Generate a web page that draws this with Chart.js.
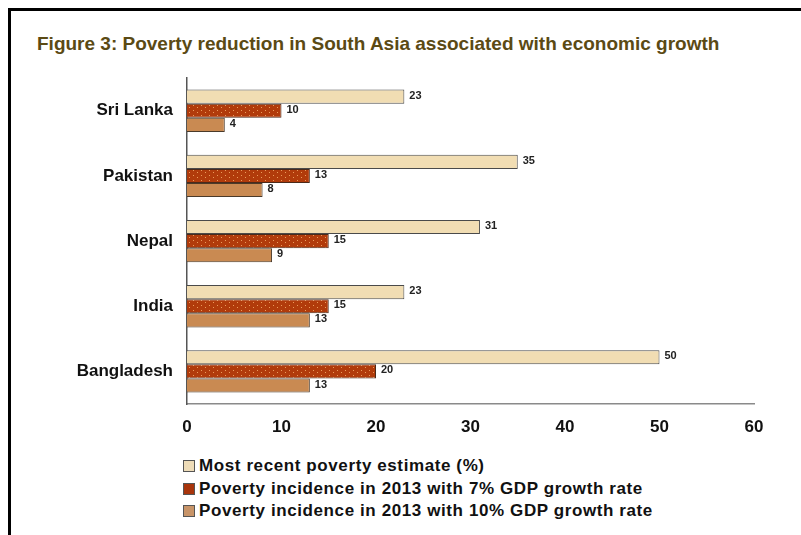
<!DOCTYPE html>
<html>
<head>
<meta charset="utf-8">
<script src="https://cdn.jsdelivr.net/npm/chart.js@4.4.1/dist/chart.umd.min.js"></script>
<style>
  html,body{margin:0;padding:0;background:#fff;}
  body{width:801px;height:535px;position:relative;overflow:hidden;font-family:"Liberation Sans",Arial,sans-serif;}
  #frame{position:absolute;left:8px;top:8px;width:820px;height:560px;border-left:3px solid #000;border-top:3px solid #000;}
  #title{position:absolute;left:37px;top:33px;font-weight:bold;font-size:19px;color:#5b4a14;white-space:nowrap;}
  #wrap{position:absolute;left:0;top:54px;width:790px;height:400px;}
  #legend{position:absolute;left:183px;top:455px;font-weight:bold;font-size:17px;letter-spacing:0.6px;color:#111;}
  #legend div{height:22.5px;line-height:22px;white-space:nowrap;}
  #legend span{display:inline-block;width:10px;height:10px;border:1px solid #555;margin-right:4px;vertical-align:-1px;}
</style>
</head>
<body>
<div id="frame"></div>
<div id="title">Figure 3: Poverty reduction in South Asia associated with economic growth</div>
<div id="wrap"><canvas id="c"></canvas></div>
<div id="legend"></div>
<script>
const countries=['Sri Lanka','Pakistan','Nepal','India','Bangladesh'];
const seriesNames=['Most recent poverty estimate (%)','Poverty incidence in 2013 with 7% GDP growth rate','Poverty incidence in 2013 with 10% GDP growth rate'];
const recent=[23,35,31,23,50];
const growth7=[10,13,15,15,20];
const growth10=[4,8,9,13,13];
const xTicks=[0,10,20,30,40,50,60];

const legendCols=['#eedcb8','#a8350c','#c89468'];

function dotPattern(){
  const p=document.createElement('canvas');p.width=8;p.height=5;
  const g=p.getContext('2d');
  g.fillStyle='#b13b0b';g.fillRect(0,0,8,5);
  g.fillStyle='rgba(255,190,120,0.75)';g.fillRect(1,1,1,1);g.fillRect(5,3,1,1);
  return g.createPattern(p,'repeat');
}

const valueLabels={
  id:'valueLabels',
  afterDatasetsDraw(chart){
    const ctx=chart.ctx;
    ctx.save();
    ctx.font='bold 11px "Liberation Sans", Arial, sans-serif';
    ctx.fillStyle='#222';ctx.textBaseline='middle';ctx.textAlign='left';
    chart.data.datasets.forEach((ds,i)=>{
      chart.getDatasetMeta(i).data.forEach((bar,j)=>{
        ctx.fillText(String(ds.data[j]),bar.x+5,bar.y-1);
      });
    });
    ctx.restore();
  }
};

const ctx=document.getElementById('c').getContext('2d');
const chart=new Chart(ctx,{
  type:'bar',
  data:{
    labels:countries,
    datasets:[
      {label:seriesNames[0],data:recent,backgroundColor:'#f1ddb3',borderColor:'#4a4a4a',borderWidth:1,borderSkipped:'left'},
      {label:seriesNames[1],data:growth7,backgroundColor:dotPattern(),borderColor:'#4a2a1a',borderWidth:1,borderSkipped:'left'},
      {label:seriesNames[2],data:growth10,backgroundColor:'#c98a52',borderColor:'#4a3a2a',borderWidth:1,borderSkipped:'left'}
    ]
  },
  options:{
    indexAxis:'y',responsive:true,maintainAspectRatio:false,animation:false,
    layout:{padding:{top:12,right:36,left:0,bottom:0}},
    categoryPercentage:0.65,barPercentage:1,
    plugins:{legend:{display:false},tooltip:{enabled:false}},
    scales:{
      x:{min:0,max:60,
        afterBuildTicks(s){s.ticks=xTicks.map(v=>({value:v}));},
        afterFit(s){s.height=50;},
        grid:{display:false,drawTicks:false},
        border:{color:'#8a8a8a',width:1.5},
        ticks:{color:'#111',padding:13,font:{family:'"Liberation Sans", Arial, sans-serif',size:17,weight:'bold'}}
      },
      y:{
        afterFit(s){s.width=187;},
        grid:{display:false,drawTicks:false},
        border:{color:'#555',width:1.5},
        ticks:{color:'#111',padding:14,font:{family:'"Liberation Sans", Arial, sans-serif',size:17,weight:'bold'}}
      }
    }
  },
  plugins:[valueLabels]
});

const leg=document.getElementById('legend');
seriesNames.forEach((n,i)=>{
  const d=document.createElement('div');
  const s=document.createElement('span');s.style.background=legendCols[i];
  d.appendChild(s);d.appendChild(document.createTextNode(n));leg.appendChild(d);
});
</script>
</body>
</html>
